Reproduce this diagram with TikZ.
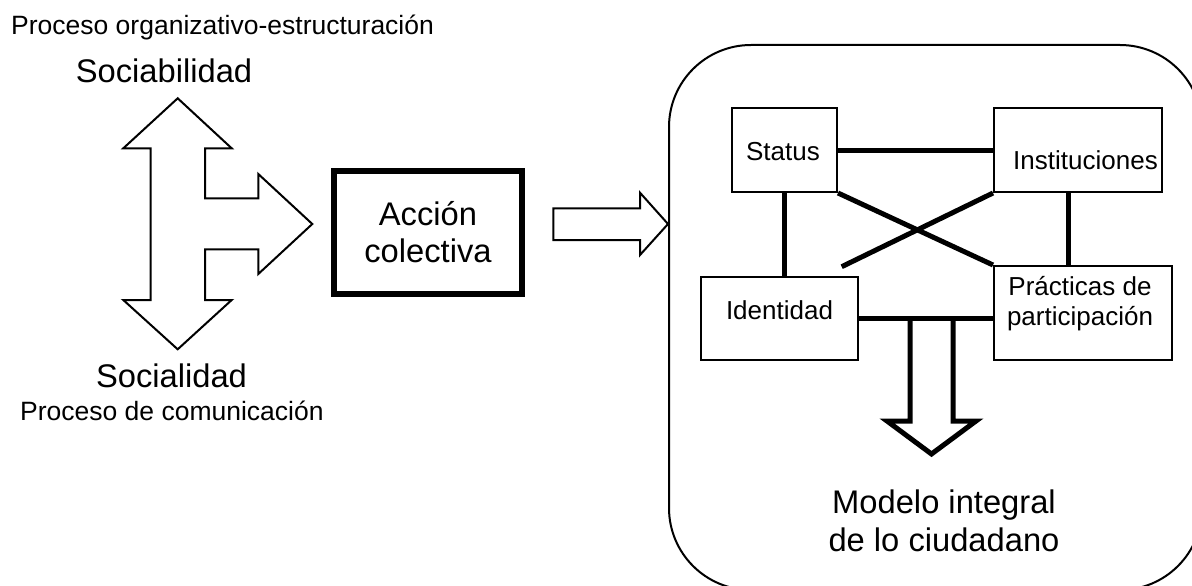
\documentclass[tikz,border=0pt]{standalone}
\usepackage{fontspec}
\setmainfont{Liberation Sans}
\begin{document}
\begin{tikzpicture}[x=1pt,y=-1pt,
  thin line/.style={line width=2pt},
  thick link/.style={line width=5pt},
  boxnode/.style={draw, line width=2pt, inner sep=0pt},
  smalltxt/.style={font=\fontsize{26.5}{30.5}\selectfont, inner sep=0pt},
  bigtxt/.style={font=\fontsize{32.7}{37.6}\selectfont, inner sep=0pt},
  boxtxt/.style={font=\fontsize{26}{30}\selectfont, inner sep=0pt, align=center}]
\clip (0,0) rectangle (1192,586);
\fill[white] (0,0) rectangle (1192,586);

% top-left texts
\node[smalltxt, anchor=base west] (t1) at (11,34.3) {Proceso organizativo-estructuración};
\node[bigtxt, anchor=base] (soc1) at (164,83) {Sociabilidad};
\node[bigtxt, anchor=base] (soc2) at (171.5,387) {Socialidad};
\node[smalltxt, anchor=base west] (t2) at (20,420) {Proceso de comunicación};

% three-way arrow
\draw[thin line, line join=miter] (177.7,98.3) -- (231.7,148.3) -- (205,148.3) -- (205,198.3)
  -- (258.3,198.3) -- (258.3,174) -- (312.3,224) -- (258.3,274) -- (258.3,249.3)
  -- (205,249.3) -- (205,300) -- (231.7,300) -- (177.7,349.3) -- (123.3,300)
  -- (150.7,300) -- (150.7,148.3) -- (123.3,148.3) -- cycle;

% Accion colectiva
\node[boxnode, line width=6pt, minimum width=188pt, minimum height=123pt,
      font=\fontsize{32.7}{36.5}\selectfont, align=center] (acc) at (428,232) {Acción\\colectiva};

% frame
\node[draw, thin line, rounded corners=82pt, minimum width=533pt, minimum height=545pt, inner sep=0pt]
  (frame) at (935.5,317.5) {};

% hollow arrow to frame
\draw[thin line, line join=miter] (553.3,208.3) -- (640,208.3) -- (640,192.7) -- (frame.west |- 0,224)
  -- (640,255) -- (640,240) -- (553.3,240) -- cycle;

% inner boxes
\node[boxnode, minimum width=105pt, minimum height=84pt] (status) at (784.5,150) {};
\node[boxnode, minimum width=168pt, minimum height=84pt] (inst) at (1078,150) {};
\node[boxnode, minimum width=157pt, minimum height=83pt] (iden) at (779.5,318.5) {};
\node[boxnode, minimum width=178pt, minimum height=94pt] (prac) at (1083,313) {};

\node[boxtxt] at (783,152) {Status};
\node[boxtxt] at (1085.5,160) {Instituciones};
\node[boxtxt] at (779.5,310) {Identidad};
\node[boxtxt] at (1080,304) {Prácticas de\\participación};

% links
\coordinate (d2) at (841.7,266.7);
\coordinate (v2) at (1068,192);
\draw[thick link] (status.east) -- (inst.west);
\draw[thick link] (status.south east) -- (prac.north west);
\draw[thick link] (inst.south west) -- (d2);
\draw[thick link] (status.south) -- (status.south |- iden.north);
\draw[thick link] (v2) -- (v2 |- prac.north);
\draw[thick link] (iden.east) -- (iden.east -| prac.west);

% big down arrow
\draw[thick link, line join=miter] (910,318) -- (910,421) -- (887,421) -- (931.5,454)
  -- (976,421) -- (953,421) -- (953,318);

\node[bigtxt, anchor=north, align=center] (modelo) at (944,490) {Modelo integral\\de lo ciudadano};
\end{tikzpicture}
\end{document}
